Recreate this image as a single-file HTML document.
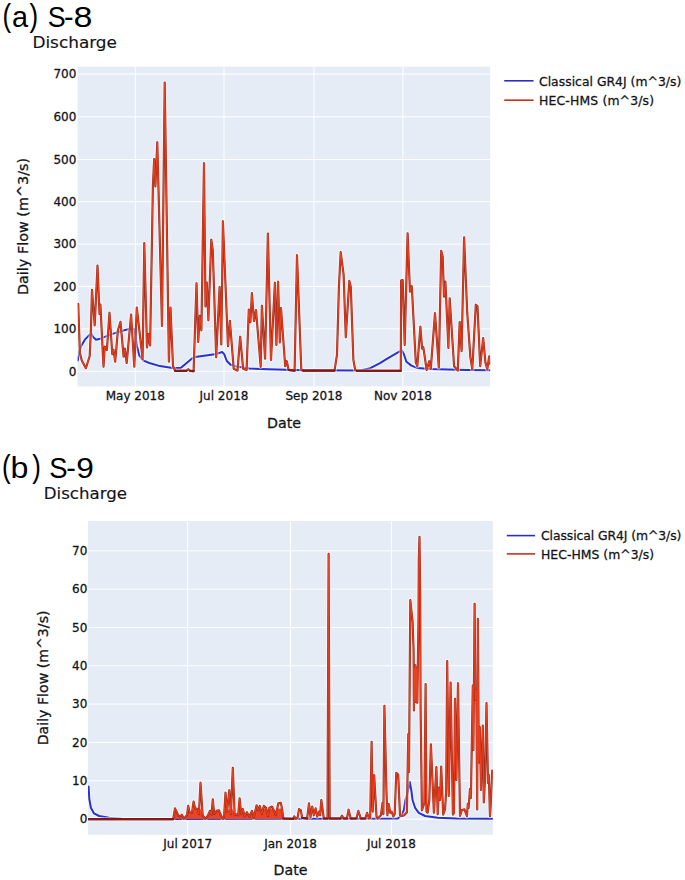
<!DOCTYPE html>
<html lang="en"><head><meta charset="utf-8"><title>Discharge S-8 / S-9</title>
<style>
html,body{margin:0;padding:0;background:#fff;}
body{width:685px;height:880px;overflow:hidden;}
svg{display:block;}
text{font-family:"DejaVu Sans","Liberation Sans",sans-serif;fill:#121419;}
.t{font-family:"Liberation Sans","DejaVu Sans",sans-serif;font-size:28.8px;fill:#000;}
.tp{font-family:"Liberation Sans","DejaVu Sans",sans-serif;font-size:32px;fill:#000;}
.st{font-size:15.6px;}
.tk{font-size:12px;}
.ax{font-size:14.2px;}
.lg{font-size:12.4px;}
.g{stroke:#fff;stroke-width:1;}
.tk,.ax,.lg{stroke:#121419;stroke-width:0.28px;paint-order:stroke;}
.st{stroke:#121419;stroke-width:0.15px;}
</style></head><body>
<svg width="685" height="880" viewBox="0 0 685 880">
<rect width="685" height="880" fill="#fff"/>

<text class="t"><tspan class="tp" x="2.4" y="26.4" textLength="8.6" lengthAdjust="spacingAndGlyphs">(</tspan><tspan class="t" x="12.1" y="27.3">a</tspan><tspan class="tp" x="29.6" y="26.4" textLength="8.6" lengthAdjust="spacingAndGlyphs">)</tspan><tspan> </tspan><tspan class="t" x="47.7" y="27.3" textLength="17.9" lengthAdjust="spacingAndGlyphs">S</tspan><tspan class="t" x="64.0" y="27.3">-</tspan><tspan class="t" x="73.4" y="27.3" textLength="18.9" lengthAdjust="spacingAndGlyphs">8</tspan></text>
<text class="st" x="32.4" y="47.9" textLength="84.6" lengthAdjust="spacingAndGlyphs">Discharge</text>
<rect x="77.6" y="66.6" width="412.6" height="319.79999999999995" fill="#e5ecf6"/>
<line class="g" x1="77.6" x2="490.2" y1="371.3" y2="371.3"/>
<line class="g" x1="77.6" x2="490.2" y1="328.9" y2="328.9"/>
<line class="g" x1="77.6" x2="490.2" y1="286.5" y2="286.5"/>
<line class="g" x1="77.6" x2="490.2" y1="244.1" y2="244.1"/>
<line class="g" x1="77.6" x2="490.2" y1="201.7" y2="201.7"/>
<line class="g" x1="77.6" x2="490.2" y1="159.5" y2="159.5"/>
<line class="g" x1="77.6" x2="490.2" y1="116.9" y2="116.9"/>
<line class="g" x1="77.6" x2="490.2" y1="74.1" y2="74.1"/>
<line class="g" x1="135.3" x2="135.3" y1="66.6" y2="386.4"/>
<line class="g" x1="224.0" x2="224.0" y1="66.6" y2="386.4"/>
<line class="g" x1="314.0" x2="314.0" y1="66.6" y2="386.4"/>
<line class="g" x1="402.9" x2="402.9" y1="66.6" y2="386.4"/>
<clipPath id="ca"><rect x="77.6" y="66.6" width="412.6" height="319.79999999999995"/></clipPath>
<g clip-path="url(#ca)" fill="none" stroke-linejoin="round" stroke-linecap="round">
<polyline stroke="#fff" stroke-opacity="0.5" stroke-width="4.2" points="77.8,360.4 79.6,350.4 81.5,345.4 85.3,339.1 89.7,334.7 91.6,333.8 92.8,336.6 96.0,339.7 99.1,339.1 111.7,334.1 124.2,330.3 131.8,328.4 134.3,329.1 135.5,335.3 136.8,345.4 139.3,355.4 143.1,360.4 149.3,363.0 160.0,366.1 172.6,368.0 180.7,368.0 191.4,358.9 195.2,357.0 216.5,353.9 222.1,352.0 224.2,354.1 226.8,361.0 230.6,364.8 236.8,366.6 249.4,368.5 268.2,369.3 304.0,370.2 360.3,370.4 370.3,368.1 380.0,363.1 386.0,359.3 400.1,351.1 402.0,350.5 403.9,354.3 406.4,361.8 411.4,365.6 417.7,368.1 430.2,369.0 466.0,370.0 490.1,370.2"/>
<polyline stroke="#2632d2" stroke-width="2" points="77.8,360.4 79.6,350.4 81.5,345.4 85.3,339.1 89.7,334.7 91.6,333.8 92.8,336.6 96.0,339.7 99.1,339.1 111.7,334.1 124.2,330.3 131.8,328.4 134.3,329.1 135.5,335.3 136.8,345.4 139.3,355.4 143.1,360.4 149.3,363.0 160.0,366.1 172.6,368.0 180.7,368.0 191.4,358.9 195.2,357.0 216.5,353.9 222.1,352.0 224.2,354.1 226.8,361.0 230.6,364.8 236.8,366.6 249.4,368.5 268.2,369.3 304.0,370.2 360.3,370.4 370.3,368.1 380.0,363.1 386.0,359.3 400.1,351.1 402.0,350.5 403.9,354.3 406.4,361.8 411.4,365.6 417.7,368.1 430.2,369.0 466.0,370.0 490.1,370.2"/>
<polyline stroke="#fff" stroke-opacity="0.5" stroke-width="4.4" points="78.2,303.9 79.9,352.9 81.8,360.4 85.9,368.2 89.7,356.0 90.9,330.3 92.0,289.9 94.7,325.3 97.5,265.6 99.5,314.0 100.4,304.6 103.5,366.7 104.8,346.6 106.9,349.8 109.5,312.7 112.3,354.2 113.5,349.8 115.2,361.7 117.9,330.3 120.5,321.8 123.6,356.7 124.8,348.5 126.7,363.0 131.1,314.6 134.3,366.7 136.8,307.5 142.6,359.2 144.3,243.0 147.0,347.5 148.6,334.1 150.1,345.4 152.9,186.0 154.2,159.0 155.4,186.4 157.3,142.2 162.0,325.9 164.7,82.6 168.9,361.6 170.5,307.5 173.0,366.0 175.1,370.8 186.4,370.8 188.2,369.2 190.1,370.8 193.6,371.2 196.5,283.2 198.2,342.0 199.8,315.9 201.4,330.3 204.0,163.2 205.5,306.5 206.8,282.6 208.4,320.3 211.3,239.7 212.8,250.4 216.2,357.2 219.6,287.0 221.3,344.5 222.9,221.2 228.0,346.1 229.9,320.8 233.7,368.7 237.5,370.6 240.2,336.7 243.1,368.7 246.6,370.0 248.8,309.5 250.4,322.3 251.9,293.1 254.0,321.0 256.0,310.0 260.7,366.8 261.9,305.7 265.1,358.7 267.9,233.6 271.0,359.9 274.9,282.7 276.4,344.9 278.1,281.7 279.8,342.4 281.0,308.0 285.2,366.2 286.8,361.2 288.6,370.0 294.6,370.6 297.0,255.2 301.3,370.0 303.0,370.6 334.5,370.6 337.0,354.9 338.9,287.1 340.7,252.1 343.6,274.4 345.8,337.3 349.3,280.8 350.8,287.1 353.4,359.9 355.2,370.0 357.0,370.8 400.8,370.8 401.1,280.5 402.7,280.0 404.7,344.9 407.6,233.3 410.0,291.6 411.8,286.2 415.8,362.4 417.3,366.2 420.4,326.7 422.1,348.6 423.3,347.1 426.7,370.0 429.2,361.2 430.8,368.7 435.0,313.2 438.8,367.5 441.2,250.8 442.7,256.5 444.0,296.7 445.4,281.5 448.4,348.0 449.7,298.3 454.1,366.2 457.8,370.6 459.7,322.0 461.6,351.1 464.1,237.4 467.2,312.2 470.4,357.4 472.3,369.3 475.8,304.7 477.5,306.2 480.2,366.2 483.2,338.0 485.4,362.4 487.3,369.3 489.2,356.4 489.9,363.7"/>
<polyline stroke="#a32a17" stroke-width="2.15" points="78.2,303.9 79.9,352.9 81.8,360.4 85.9,368.2 89.7,356.0 90.9,330.3 92.0,289.9 94.7,325.3 97.5,265.6 99.5,314.0 100.4,304.6 103.5,366.7 104.8,346.6 106.9,349.8 109.5,312.7 112.3,354.2 113.5,349.8 115.2,361.7 117.9,330.3 120.5,321.8 123.6,356.7 124.8,348.5 126.7,363.0 131.1,314.6 134.3,366.7 136.8,307.5 142.6,359.2 144.3,243.0 147.0,347.5 148.6,334.1 150.1,345.4 152.9,186.0 154.2,159.0 155.4,186.4 157.3,142.2 162.0,325.9 164.7,82.6 168.9,361.6 170.5,307.5 173.0,366.0 175.1,370.8 186.4,370.8 188.2,369.2 190.1,370.8 193.6,371.2 196.5,283.2 198.2,342.0 199.8,315.9 201.4,330.3 204.0,163.2 205.5,306.5 206.8,282.6 208.4,320.3 211.3,239.7 212.8,250.4 216.2,357.2 219.6,287.0 221.3,344.5 222.9,221.2 228.0,346.1 229.9,320.8 233.7,368.7 237.5,370.6 240.2,336.7 243.1,368.7 246.6,370.0 248.8,309.5 250.4,322.3 251.9,293.1 254.0,321.0 256.0,310.0 260.7,366.8 261.9,305.7 265.1,358.7 267.9,233.6 271.0,359.9 274.9,282.7 276.4,344.9 278.1,281.7 279.8,342.4 281.0,308.0 285.2,366.2 286.8,361.2 288.6,370.0 294.6,370.6 297.0,255.2 301.3,370.0 303.0,370.6 334.5,370.6 337.0,354.9 338.9,287.1 340.7,252.1 343.6,274.4 345.8,337.3 349.3,280.8 350.8,287.1 353.4,359.9 355.2,370.0 357.0,370.8 400.8,370.8 401.1,280.5 402.7,280.0 404.7,344.9 407.6,233.3 410.0,291.6 411.8,286.2 415.8,362.4 417.3,366.2 420.4,326.7 422.1,348.6 423.3,347.1 426.7,370.0 429.2,361.2 430.8,368.7 435.0,313.2 438.8,367.5 441.2,250.8 442.7,256.5 444.0,296.7 445.4,281.5 448.4,348.0 449.7,298.3 454.1,366.2 457.8,370.6 459.7,322.0 461.6,351.1 464.1,237.4 467.2,312.2 470.4,357.4 472.3,369.3 475.8,304.7 477.5,306.2 480.2,366.2 483.2,338.0 485.4,362.4 487.3,369.3 489.2,356.4 489.9,363.7"/>
<polyline stroke="#ee4220" stroke-width="1.0" points="78.2,303.9 79.9,352.9 81.8,360.4 85.9,368.2 89.7,356.0 90.9,330.3 92.0,289.9 94.7,325.3 97.5,265.6 99.5,314.0 100.4,304.6 103.5,366.7 104.8,346.6 106.9,349.8 109.5,312.7 112.3,354.2 113.5,349.8 115.2,361.7 117.9,330.3 120.5,321.8 123.6,356.7 124.8,348.5 126.7,363.0 131.1,314.6 134.3,366.7 136.8,307.5 142.6,359.2 144.3,243.0 147.0,347.5 148.6,334.1 150.1,345.4 152.9,186.0 154.2,159.0 155.4,186.4 157.3,142.2 162.0,325.9 164.7,82.6 168.9,361.6 170.5,307.5 173.0,366.0 175.1,370.8 186.4,370.8 188.2,369.2 190.1,370.8 193.6,371.2 196.5,283.2 198.2,342.0 199.8,315.9 201.4,330.3 204.0,163.2 205.5,306.5 206.8,282.6 208.4,320.3 211.3,239.7 212.8,250.4 216.2,357.2 219.6,287.0 221.3,344.5 222.9,221.2 228.0,346.1 229.9,320.8 233.7,368.7 237.5,370.6 240.2,336.7 243.1,368.7 246.6,370.0 248.8,309.5 250.4,322.3 251.9,293.1 254.0,321.0 256.0,310.0 260.7,366.8 261.9,305.7 265.1,358.7 267.9,233.6 271.0,359.9 274.9,282.7 276.4,344.9 278.1,281.7 279.8,342.4 281.0,308.0 285.2,366.2 286.8,361.2 288.6,370.0 294.6,370.6 297.0,255.2 301.3,370.0 303.0,370.6 334.5,370.6 337.0,354.9 338.9,287.1 340.7,252.1 343.6,274.4 345.8,337.3 349.3,280.8 350.8,287.1 353.4,359.9 355.2,370.0 357.0,370.8 400.8,370.8 401.1,280.5 402.7,280.0 404.7,344.9 407.6,233.3 410.0,291.6 411.8,286.2 415.8,362.4 417.3,366.2 420.4,326.7 422.1,348.6 423.3,347.1 426.7,370.0 429.2,361.2 430.8,368.7 435.0,313.2 438.8,367.5 441.2,250.8 442.7,256.5 444.0,296.7 445.4,281.5 448.4,348.0 449.7,298.3 454.1,366.2 457.8,370.6 459.7,322.0 461.6,351.1 464.1,237.4 467.2,312.2 470.4,357.4 472.3,369.3 475.8,304.7 477.5,306.2 480.2,366.2 483.2,338.0 485.4,362.4 487.3,369.3 489.2,356.4 489.9,363.7"/>
<line stroke="#84191a" stroke-width="2.2" x1="175.1" y1="370.8" x2="186.4" y2="370.8"/>
<line stroke="#84191a" stroke-width="2.2" x1="190.1" y1="370.8" x2="193.6" y2="371.2"/>
<line stroke="#84191a" stroke-width="2.2" x1="288.6" y1="370.0" x2="294.6" y2="370.6"/>
<line stroke="#84191a" stroke-width="2.2" x1="303.0" y1="370.6" x2="334.5" y2="370.6"/>
<line stroke="#84191a" stroke-width="2.2" x1="357.0" y1="370.8" x2="400.8" y2="370.8"/>
</g>
<text class="tk" text-anchor="end" x="76.3" y="375.6">0</text>
<text class="tk" text-anchor="end" x="76.3" y="333.2">100</text>
<text class="tk" text-anchor="end" x="76.3" y="290.8">200</text>
<text class="tk" text-anchor="end" x="76.3" y="248.4">300</text>
<text class="tk" text-anchor="end" x="76.3" y="206.0">400</text>
<text class="tk" text-anchor="end" x="76.3" y="163.8">500</text>
<text class="tk" text-anchor="end" x="76.3" y="121.2">600</text>
<text class="tk" text-anchor="end" x="76.3" y="78.4">700</text>
<text class="tk" text-anchor="middle" x="135.3" y="400.3">May 2018</text>
<text class="tk" text-anchor="middle" x="224.0" y="400.3">Jul 2018</text>
<text class="tk" text-anchor="middle" x="314.0" y="400.3">Sep 2018</text>
<text class="tk" text-anchor="middle" x="402.9" y="400.3">Nov 2018</text>
<text class="ax" text-anchor="middle" x="284" y="428.1">Date</text>
<text class="ax" style="font-size:14.4px" text-anchor="middle" transform="translate(28.2,226.5) rotate(-90)">Daily Flow (m^3/s)</text>
<line x1="504.2" x2="533.6" y1="80.8" y2="80.8" stroke="#2a30c6" stroke-width="1.6"/>
<line x1="504.2" x2="533.6" y1="100.2" y2="100.2" stroke="#c9301c" stroke-width="1.6"/>
<text class="lg" x="539.0" y="86.0" textLength="142.3">Classical GR4J (m^3/s)</text>
<text class="lg" x="539.0" y="104.8" textLength="115">HEC-HMS (m^3/s)</text>
<text class="t"><tspan class="tp" x="2.1" y="477.0" textLength="8.6" lengthAdjust="spacingAndGlyphs">(</tspan><tspan class="t" x="10.6" y="477.9" textLength="17.9" lengthAdjust="spacingAndGlyphs">b</tspan><tspan class="tp" x="32.2" y="477.0" textLength="8.6" lengthAdjust="spacingAndGlyphs">)</tspan><tspan> </tspan><tspan class="t" x="49.2" y="477.9" textLength="18.3" lengthAdjust="spacingAndGlyphs">S</tspan><tspan class="t" x="66.2" y="477.9">-</tspan><tspan class="t" x="76.3" y="477.9" textLength="17.6" lengthAdjust="spacingAndGlyphs">9</tspan></text>
<text class="st" x="43.8" y="499.4" textLength="83.2" lengthAdjust="spacingAndGlyphs">Discharge</text>
<rect x="88.0" y="521.0" width="404.8" height="313.79999999999995" fill="#e5ecf6"/>
<line class="g" x1="88.0" x2="492.8" y1="819.1" y2="819.1"/>
<line class="g" x1="88.0" x2="492.8" y1="780.8" y2="780.8"/>
<line class="g" x1="88.0" x2="492.8" y1="742.4" y2="742.4"/>
<line class="g" x1="88.0" x2="492.8" y1="704.1" y2="704.1"/>
<line class="g" x1="88.0" x2="492.8" y1="665.8" y2="665.8"/>
<line class="g" x1="88.0" x2="492.8" y1="627.5" y2="627.5"/>
<line class="g" x1="88.0" x2="492.8" y1="589.1" y2="589.1"/>
<line class="g" x1="88.0" x2="492.8" y1="550.8" y2="550.8"/>
<line class="g" x1="187.7" x2="187.7" y1="521.0" y2="834.8"/>
<line class="g" x1="290.6" x2="290.6" y1="521.0" y2="834.8"/>
<line class="g" x1="391.4" x2="391.4" y1="521.0" y2="834.8"/>
<clipPath id="cb"><rect x="88.0" y="521.0" width="404.8" height="313.79999999999995"/></clipPath>
<g clip-path="url(#cb)" fill="none" stroke-linejoin="round" stroke-linecap="round">
<polyline stroke="#fff" stroke-opacity="0.5" stroke-width="4.2" points="88.6,786.5 89.3,799.0 90.9,807.8 94.0,813.4 99.1,816.0 109.1,817.8 121.7,818.8 180.0,819.0 397.8,818.6 401.6,815.3 403.8,810.3 405.4,800.3 407.5,792.7 409.8,782.1 411.3,790.2 412.6,800.3 415.1,807.8 418.8,812.8 425.1,816.0 437.7,817.8 456.5,818.5 492.5,818.8"/>
<polyline stroke="#2632d2" stroke-width="2" points="88.6,786.5 89.3,799.0 90.9,807.8 94.0,813.4 99.1,816.0 109.1,817.8 121.7,818.8 180.0,819.0 397.8,818.6 401.6,815.3 403.8,810.3 405.4,800.3 407.5,792.7 409.8,782.1 411.3,790.2 412.6,800.3 415.1,807.8 418.8,812.8 425.1,816.0 437.7,817.8 456.5,818.5 492.5,818.8"/>
<polyline stroke="#fff" stroke-opacity="0.5" stroke-width="4.4" points="88.2,819.1 173.2,819.1 175.0,808.4 176.9,812.2 178.2,815.3 180.0,816.5 181.9,814.7 183.8,818.8 185.7,816.6 187.0,815.3 188.2,805.9 189.5,812.2 192.0,812.8 193.6,801.5 195.1,808.4 197.9,809.1 198.9,814.1 200.5,782.7 202.7,815.3 205.2,818.8 207.7,816.0 209.9,810.9 211.5,814.7 212.8,799.3 214.2,814.1 216.5,810.9 219.0,810.3 220.9,815.3 222.8,818.8 224.0,817.8 225.5,792.7 227.1,811.6 229.3,790.2 230.9,814.1 232.8,767.9 234.7,815.3 237.2,814.1 238.2,815.3 239.6,798.4 241.3,814.1 242.8,809.1 244.7,816.6 246.9,812.2 249.4,816.6 251.9,810.9 253.8,817.8 256.6,805.3 258.2,810.3 259.8,805.9 261.9,814.1 263.8,805.9 266.1,807.8 267.9,816.0 269.5,807.8 272.0,806.5 274.5,811.6 275.8,815.3 278.3,803.4 280.8,802.8 282.3,810.3 283.3,818.5 293.3,818.8 294.2,816.3 295.9,818.8 297.7,817.2 299.0,809.1 300.9,810.3 302.1,817.8 307.1,818.5 309.0,803.4 310.5,817.2 312.2,806.5 313.8,815.3 315.6,808.4 317.2,816.6 319.1,811.6 320.1,815.3 321.3,800.0 323.8,818.5 327.5,818.5 328.6,553.9 329.7,818.5 340.5,818.5 341.9,815.7 343.8,818.5 346.9,818.5 348.6,809.7 350.7,818.5 356.4,818.5 358.3,810.9 360.8,818.5 365.2,818.5 367.1,812.8 368.9,818.5 370.2,817.8 371.6,741.8 372.7,811.6 374.2,775.2 376.5,816.6 377.7,818.5 380.9,815.3 382.5,802.8 383.4,814.1 384.4,705.9 386.5,792.7 387.4,815.3 388.7,804.0 390.3,812.8 391.6,811.6 393.4,816.6 394.7,814.1 396.3,772.9 398.2,774.5 400.0,815.3 402.2,816.0 404.1,815.3 406.9,812.2 408.3,734.2 409.0,772.0 410.3,600.1 412.6,621.7 413.6,650.7 413.9,710.4 414.4,668.0 414.9,700.0 415.3,665.2 415.9,702.0 416.4,668.0 416.9,700.0 417.3,702.8 418.5,620.0 418.8,560.2 419.5,536.9 420.2,594.7 420.6,707.8 421.9,810.3 424.4,803.0 425.6,684.0 426.4,811.6 427.6,812.8 429.3,800.0 430.9,744.3 433.9,812.8 436.4,767.0 437.7,814.1 438.9,787.7 440.0,800.0 441.2,766.6 443.2,814.6 445.1,809.0 446.2,790.0 447.2,661.0 448.8,796.0 450.6,682.6 452.9,814.6 454.0,813.0 455.0,698.8 456.4,780.0 458.0,683.2 460.0,816.0 461.9,810.0 464.4,809.4 466.9,816.2 467.8,803.8 468.6,808.0 470.0,788.8 470.9,798.0 472.8,685.6 473.4,750.0 474.6,603.8 475.5,700.0 476.3,690.0 477.2,809.4 477.9,618.8 478.8,762.5 479.8,727.0 481.0,790.0 482.8,725.6 483.8,802.5 485.0,780.0 486.5,703.1 488.0,783.0 488.8,775.0 490.0,816.2 491.0,800.0 492.2,770.6"/>
<polygon fill="#ea4426" stroke="none" points="173.2,819.1 173.2,819.1 175.0,808.6 176.9,812.2 178.2,815.3 180.0,816.5 181.9,814.7 183.8,818.8 185.7,816.6 187.0,815.3 188.2,808.6 189.5,812.2 192.0,812.8 193.6,808.6 195.1,808.6 197.9,809.1 198.9,814.1 200.5,808.6 202.7,815.3 205.2,818.8 207.7,816.0 209.9,810.9 211.5,814.7 212.8,808.6 214.2,814.1 216.5,810.9 219.0,810.3 220.9,815.3 222.8,818.8 224.0,817.8 225.5,808.6 227.1,811.6 229.3,808.6 230.9,814.1 232.8,808.6 234.7,815.3 237.2,814.1 238.2,815.3 239.6,808.6 241.3,814.1 242.8,809.1 244.7,816.6 246.9,812.2 249.4,816.6 251.9,810.9 253.8,817.8 256.6,808.6 258.2,810.3 259.8,808.6 261.9,814.1 263.8,808.6 266.1,808.6 267.9,816.0 269.5,808.6 272.0,808.6 274.5,811.6 275.8,815.3 278.3,808.6 280.8,808.6 282.3,810.3 283.3,818.5 283.3,819.1"/>
<polyline stroke="#a32a17" stroke-width="2.15" points="88.2,819.1 173.2,819.1 175.0,808.4 176.9,812.2 178.2,815.3 180.0,816.5 181.9,814.7 183.8,818.8 185.7,816.6 187.0,815.3 188.2,805.9 189.5,812.2 192.0,812.8 193.6,801.5 195.1,808.4 197.9,809.1 198.9,814.1 200.5,782.7 202.7,815.3 205.2,818.8 207.7,816.0 209.9,810.9 211.5,814.7 212.8,799.3 214.2,814.1 216.5,810.9 219.0,810.3 220.9,815.3 222.8,818.8 224.0,817.8 225.5,792.7 227.1,811.6 229.3,790.2 230.9,814.1 232.8,767.9 234.7,815.3 237.2,814.1 238.2,815.3 239.6,798.4 241.3,814.1 242.8,809.1 244.7,816.6 246.9,812.2 249.4,816.6 251.9,810.9 253.8,817.8 256.6,805.3 258.2,810.3 259.8,805.9 261.9,814.1 263.8,805.9 266.1,807.8 267.9,816.0 269.5,807.8 272.0,806.5 274.5,811.6 275.8,815.3 278.3,803.4 280.8,802.8 282.3,810.3 283.3,818.5 293.3,818.8 294.2,816.3 295.9,818.8 297.7,817.2 299.0,809.1 300.9,810.3 302.1,817.8 307.1,818.5 309.0,803.4 310.5,817.2 312.2,806.5 313.8,815.3 315.6,808.4 317.2,816.6 319.1,811.6 320.1,815.3 321.3,800.0 323.8,818.5 327.5,818.5 328.6,553.9 329.7,818.5 340.5,818.5 341.9,815.7 343.8,818.5 346.9,818.5 348.6,809.7 350.7,818.5 356.4,818.5 358.3,810.9 360.8,818.5 365.2,818.5 367.1,812.8 368.9,818.5 370.2,817.8 371.6,741.8 372.7,811.6 374.2,775.2 376.5,816.6 377.7,818.5 380.9,815.3 382.5,802.8 383.4,814.1 384.4,705.9 386.5,792.7 387.4,815.3 388.7,804.0 390.3,812.8 391.6,811.6 393.4,816.6 394.7,814.1 396.3,772.9 398.2,774.5 400.0,815.3 402.2,816.0 404.1,815.3 406.9,812.2 408.3,734.2 409.0,772.0 410.3,600.1 412.6,621.7 413.6,650.7 413.9,710.4 414.4,668.0 414.9,700.0 415.3,665.2 415.9,702.0 416.4,668.0 416.9,700.0 417.3,702.8 418.5,620.0 418.8,560.2 419.5,536.9 420.2,594.7 420.6,707.8 421.9,810.3 424.4,803.0 425.6,684.0 426.4,811.6 427.6,812.8 429.3,800.0 430.9,744.3 433.9,812.8 436.4,767.0 437.7,814.1 438.9,787.7 440.0,800.0 441.2,766.6 443.2,814.6 445.1,809.0 446.2,790.0 447.2,661.0 448.8,796.0 450.6,682.6 452.9,814.6 454.0,813.0 455.0,698.8 456.4,780.0 458.0,683.2 460.0,816.0 461.9,810.0 464.4,809.4 466.9,816.2 467.8,803.8 468.6,808.0 470.0,788.8 470.9,798.0 472.8,685.6 473.4,750.0 474.6,603.8 475.5,700.0 476.3,690.0 477.2,809.4 477.9,618.8 478.8,762.5 479.8,727.0 481.0,790.0 482.8,725.6 483.8,802.5 485.0,780.0 486.5,703.1 488.0,783.0 488.8,775.0 490.0,816.2 491.0,800.0 492.2,770.6"/>
<polyline stroke="#ee4220" stroke-width="1.0" points="88.2,819.1 173.2,819.1 175.0,808.4 176.9,812.2 178.2,815.3 180.0,816.5 181.9,814.7 183.8,818.8 185.7,816.6 187.0,815.3 188.2,805.9 189.5,812.2 192.0,812.8 193.6,801.5 195.1,808.4 197.9,809.1 198.9,814.1 200.5,782.7 202.7,815.3 205.2,818.8 207.7,816.0 209.9,810.9 211.5,814.7 212.8,799.3 214.2,814.1 216.5,810.9 219.0,810.3 220.9,815.3 222.8,818.8 224.0,817.8 225.5,792.7 227.1,811.6 229.3,790.2 230.9,814.1 232.8,767.9 234.7,815.3 237.2,814.1 238.2,815.3 239.6,798.4 241.3,814.1 242.8,809.1 244.7,816.6 246.9,812.2 249.4,816.6 251.9,810.9 253.8,817.8 256.6,805.3 258.2,810.3 259.8,805.9 261.9,814.1 263.8,805.9 266.1,807.8 267.9,816.0 269.5,807.8 272.0,806.5 274.5,811.6 275.8,815.3 278.3,803.4 280.8,802.8 282.3,810.3 283.3,818.5 293.3,818.8 294.2,816.3 295.9,818.8 297.7,817.2 299.0,809.1 300.9,810.3 302.1,817.8 307.1,818.5 309.0,803.4 310.5,817.2 312.2,806.5 313.8,815.3 315.6,808.4 317.2,816.6 319.1,811.6 320.1,815.3 321.3,800.0 323.8,818.5 327.5,818.5 328.6,553.9 329.7,818.5 340.5,818.5 341.9,815.7 343.8,818.5 346.9,818.5 348.6,809.7 350.7,818.5 356.4,818.5 358.3,810.9 360.8,818.5 365.2,818.5 367.1,812.8 368.9,818.5 370.2,817.8 371.6,741.8 372.7,811.6 374.2,775.2 376.5,816.6 377.7,818.5 380.9,815.3 382.5,802.8 383.4,814.1 384.4,705.9 386.5,792.7 387.4,815.3 388.7,804.0 390.3,812.8 391.6,811.6 393.4,816.6 394.7,814.1 396.3,772.9 398.2,774.5 400.0,815.3 402.2,816.0 404.1,815.3 406.9,812.2 408.3,734.2 409.0,772.0 410.3,600.1 412.6,621.7 413.6,650.7 413.9,710.4 414.4,668.0 414.9,700.0 415.3,665.2 415.9,702.0 416.4,668.0 416.9,700.0 417.3,702.8 418.5,620.0 418.8,560.2 419.5,536.9 420.2,594.7 420.6,707.8 421.9,810.3 424.4,803.0 425.6,684.0 426.4,811.6 427.6,812.8 429.3,800.0 430.9,744.3 433.9,812.8 436.4,767.0 437.7,814.1 438.9,787.7 440.0,800.0 441.2,766.6 443.2,814.6 445.1,809.0 446.2,790.0 447.2,661.0 448.8,796.0 450.6,682.6 452.9,814.6 454.0,813.0 455.0,698.8 456.4,780.0 458.0,683.2 460.0,816.0 461.9,810.0 464.4,809.4 466.9,816.2 467.8,803.8 468.6,808.0 470.0,788.8 470.9,798.0 472.8,685.6 473.4,750.0 474.6,603.8 475.5,700.0 476.3,690.0 477.2,809.4 477.9,618.8 478.8,762.5 479.8,727.0 481.0,790.0 482.8,725.6 483.8,802.5 485.0,780.0 486.5,703.1 488.0,783.0 488.8,775.0 490.0,816.2 491.0,800.0 492.2,770.6"/>
<line stroke="#84191a" stroke-width="2.2" x1="88.2" y1="819.1" x2="173.2" y2="819.1"/>
<line stroke="#84191a" stroke-width="2.2" x1="283.3" y1="818.5" x2="293.3" y2="818.8"/>
<line stroke="#84191a" stroke-width="2.2" x1="302.1" y1="817.8" x2="307.1" y2="818.5"/>
<line stroke="#84191a" stroke-width="2.2" x1="323.8" y1="818.5" x2="327.5" y2="818.5"/>
<line stroke="#84191a" stroke-width="2.2" x1="329.7" y1="818.5" x2="340.5" y2="818.5"/>
<line stroke="#84191a" stroke-width="2.2" x1="343.8" y1="818.5" x2="346.9" y2="818.5"/>
<line stroke="#84191a" stroke-width="2.2" x1="350.7" y1="818.5" x2="356.4" y2="818.5"/>
<line stroke="#84191a" stroke-width="2.2" x1="360.8" y1="818.5" x2="365.2" y2="818.5"/>
</g>
<text class="tk" text-anchor="end" x="87.3" y="823.4">0</text>
<text class="tk" text-anchor="end" x="87.3" y="785.1">10</text>
<text class="tk" text-anchor="end" x="87.3" y="746.7">20</text>
<text class="tk" text-anchor="end" x="87.3" y="708.4">30</text>
<text class="tk" text-anchor="end" x="87.3" y="670.1">40</text>
<text class="tk" text-anchor="end" x="87.3" y="631.8">50</text>
<text class="tk" text-anchor="end" x="87.3" y="593.4">60</text>
<text class="tk" text-anchor="end" x="87.3" y="555.1">70</text>
<text class="tk" text-anchor="middle" x="187.7" y="848.2">Jul 2017</text>
<text class="tk" text-anchor="middle" x="290.6" y="848.2">Jan 2018</text>
<text class="tk" text-anchor="middle" x="391.4" y="848.2">Jul 2018</text>
<text class="ax" text-anchor="middle" x="290.5" y="875.3">Date</text>
<text class="ax" style="font-size:14.15px" text-anchor="middle" transform="translate(47.9,677.9) rotate(-90)">Daily Flow (m^3/s)</text>
<line x1="506.8" x2="535.1" y1="535.6" y2="535.6" stroke="#2a30c6" stroke-width="1.6"/>
<line x1="506.8" x2="535.1" y1="553.9" y2="553.9" stroke="#c9301c" stroke-width="1.6"/>
<text class="lg" x="541.0" y="540.4" textLength="140.4">Classical GR4J (m^3/s)</text>
<text class="lg" x="541.0" y="558.6" textLength="113.1">HEC-HMS (m^3/s)</text>
</svg></body></html>
